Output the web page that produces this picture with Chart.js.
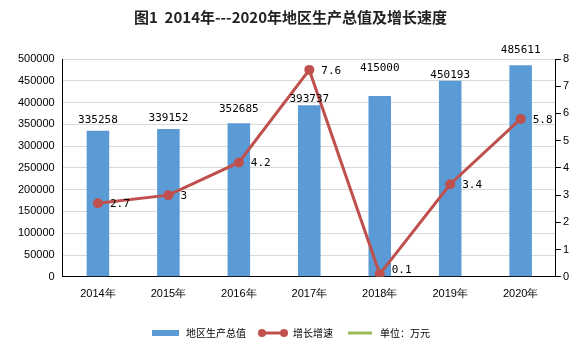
<!DOCTYPE html>
<html>
<head>
<meta charset="utf-8">
<script src="https://cdn.jsdelivr.net/npm/chart.js@4"></script>
<style>
  html, body { margin: 0; padding: 0; background: #fff; }
  #wrap { width: 587px; height: 354px; }
</style>
</head>
<body>
<div id="wrap"><canvas id="myChart" width="587" height="354"></canvas></div>
<script>
// data
var years = ['2014年', '2015年', '2016年', '2017年', '2018年', '2019年', '2020年'];
var gdp = [335258, 339152, 352685, 393737, 415000, 450193, 485611];
var growth = [2.7, 3, 4.2, 7.6, 0.1, 3.4, 5.8];
var legendNames = ['地区生产总值', '增长增速', '单位：万元'];

var blue = '#5b9bd5';
var red = '#c0504d';
var green = '#9bbb59';

// how far above the bar each value label sits
var barLabelLift = [11, 11, 14, 6, 28, 6, 15];

// little pictures for the legend
function legendIcon(kind, color) {
    var c = document.createElement('canvas');
    c.width = 30; c.height = 10;
    var g = c.getContext('2d');
    if (kind == 'bar') {
        g.fillStyle = color;
        g.fillRect(1, 2, 27, 6);
    } else {
        g.strokeStyle = color;
        g.lineWidth = 3;
        g.beginPath(); g.moveTo(3, 5); g.lineTo(27, 5); g.stroke();
        if (kind == 'dots') {
            g.fillStyle = color;
            g.beginPath(); g.arc(4, 5, 4, 0, Math.PI * 2); g.fill();
            g.beginPath(); g.arc(26, 5, 4, 0, Math.PI * 2); g.fill();
        }
    }
    return c;
}
var icons = [legendIcon('bar', blue), legendIcon('dots', red), legendIcon('line', green)];

// value labels on bars and points
var valueLabels = {
    id: 'valueLabels',
    afterDatasetsDraw: function(chart) {
        var ctx = chart.ctx;
        ctx.save();
        ctx.fillStyle = '#000';
        ctx.font = '11px "DejaVu Sans Mono", monospace';
        ctx.textBaseline = 'middle';
        ctx.textAlign = 'center';
        chart.getDatasetMeta(0).data.forEach(function(bar, i) {
            ctx.fillText(String(gdp[i]), bar.x, bar.y - barLabelLift[i]);
        });
        ctx.textAlign = 'left';
        chart.getDatasetMeta(1).data.forEach(function(pt, i) {
            var dy = i == 4 ? -4 : 1;
            ctx.fillText(String(growth[i]), pt.x + 12, pt.y + dy);
        });
        ctx.restore();
    }
};

var tickFont = { family: '"Liberation Sans", sans-serif', size: 11 };

var ctx = document.getElementById('myChart').getContext('2d');
var myChart = new Chart(ctx, {
    data: {
        labels: years,
        datasets: [{
            type: 'bar',
            label: legendNames[0],
            data: gdp,
            yAxisID: 'y',
            backgroundColor: blue,
            barPercentage: 0.64,
            categoryPercentage: 0.5,
            order: 1
        }, {
            type: 'line',
            label: legendNames[1],
            data: growth,
            yAxisID: 'y1',
            borderColor: red,
            backgroundColor: red,
            borderWidth: 3,
            pointRadius: 5,
            pointBackgroundColor: red,
            pointBorderWidth: 0,
            order: 0
        }, {
            type: 'line',
            label: legendNames[2],
            data: [],
            yAxisID: 'y1',
            borderColor: green,
            order: 2
        }]
    },
    options: {
        responsive: false,
        animation: false,
        layout: {
            padding: { left: 10, right: 16, top: 0, bottom: 6 }
        },
        plugins: {
            title: {
                display: true,
                text: '图1  2014年---2020年地区生产总值及增长速度',
                color: '#222',
                font: { family: '"Noto Sans CJK SC", sans-serif', size: 15, weight: 'bold' },
                padding: { top: 8, bottom: 33 }
            },
            legend: {
                position: 'bottom',
                labels: {
                    usePointStyle: true,
                    pointStyleWidth: 30,
                    boxHeight: 10,
                    padding: 12,
                    color: '#000',
                    font: { family: '"Noto Sans CJK SC", sans-serif', size: 10 },
                    generateLabels: function() {
                        return legendNames.map(function(n, i) {
                            return { text: n, pointStyle: icons[i], fillStyle: 'transparent', strokeStyle: 'transparent', lineWidth: 0, datasetIndex: i };
                        });
                    }
                }
            },
            tooltip: { enabled: false }
        },
        scales: {
            x: {
                grid: { display: false },
                border: { color: '#000', width: 1 },
                ticks: { color: '#000', font: tickFont, padding: 3 },
                afterFit: function(s) { s.height += 12; }
            },
            y: {
                position: 'left',
                min: 0,
                max: 500000,
                ticks: { stepSize: 50000, color: '#000', font: tickFont, padding: 8,
                    callback: function(v) { return String(v); } },
                grid: { color: '#d9d9d9', drawTicks: false },
                border: { color: '#000', width: 1 }
            },
            y1: {
                position: 'right',
                min: 0,
                max: 8,
                ticks: { stepSize: 1, color: '#000', font: tickFont, padding: 2 },
                grid: { drawOnChartArea: false, color: '#000', tickLength: 5 },
                border: { color: '#000', width: 1 }
            }
        }
    },
    plugins: [valueLabels]
});
</script>
</body>
</html>
